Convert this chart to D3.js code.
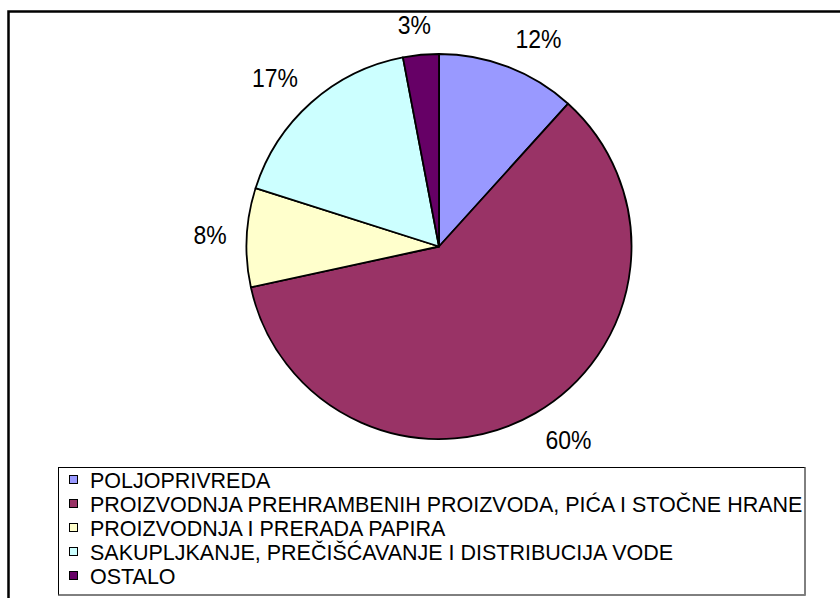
<!DOCTYPE html>
<html lang="sr">
<head>
    <meta charset="UTF-8">
    <title>Pie chart</title>
    <script src="https://d3js.org/d3.v7.min.js"></script>
    <style>
      body { margin: 0; background: #fff; }
      text { font-family: "Liberation Sans", Arial, sans-serif; fill: #000; }
    </style>
</head>
<body>
    <svg id="chart" width="840" height="598"></svg>

    <script>
        // data (share in %)
        var categories = [
          "POLJOPRIVREDA",
          "PROIZVODNJA PREHRAMBENIH PROIZVODA, PIĆA I STOČNE HRANE",
          "PROIZVODNJA I PRERADA PAPIRA",
          "SAKUPLJKANJE, PREČIŠĆAVANJE I DISTRIBUCIJA VODE",
          "OSTALO"
        ];
        var shares = [11.7, 59.9, 8.3, 17.1, 3.0];
        var colors = ["#9999FF", "#993366", "#FFFFCC", "#CCFFFF", "#660066"];

        var svg = d3.select("#chart"),
          width = +svg.attr("width"),
          height = +svg.attr("height");

        // outer chart frame (runs off the right and bottom of the picture)
        svg.append("rect")
          .attr("x", 8.5).attr("y", 11.5)
          .attr("width", width + 40).attr("height", height + 40)
          .attr("fill", "none")
          .attr("stroke", "#000")
          .attr("stroke-width", 2.5);

        var cx = 439, cy = 246.5, radius = 192.5;

        var color = d3.scaleOrdinal().domain(categories).range(colors);

        var rows = categories.map(function (c, i) { return {name: c, value: shares[i]}; });

        var pie = d3.pie().sort(null).value(function (d) { return d.value; });
        var arc = d3.arc().innerRadius(0).outerRadius(radius);
        var arcs = pie(rows);

        var g = svg.append("g").attr("transform", "translate(" + cx + "," + cy + ")");

        g.selectAll("path")
          .data(arcs)
          .enter()
          .append("path")
            .attr("d", arc)
            .attr("fill", function (d) { return color(d.data.name); })
            .attr("stroke", "#000")
            .attr("stroke-width", 1.8)
            .attr("stroke-linejoin", "round");

        // percent labels: anchored just outside the rim, pushed away from it
        var gap = 20;
        var clamp = function (v) { return Math.max(-1, Math.min(1, v)); };
        g.selectAll("text.pct")
          .data(arcs)
          .enter()
          .append("text")
            .attr("class", "pct")
            .style("font-size", "23px")
            .attr("text-anchor", "middle")
            .attr("dominant-baseline", "central")
            .text(function (d) { return Math.round(d.data.value) + "%"; })
            .each(function (d) {
              var a = (d.startAngle + d.endAngle) / 2;
              var w = this.getComputedTextLength(), h = 19;
              var ax = Math.sin(a) * (radius + gap), ay = -Math.cos(a) * (radius + gap);
              var x = ax + w / 2 * clamp(Math.sin(a) * 3);
              var y = ay - h / 2 * clamp(Math.cos(a) * 3);
              d3.select(this).attr("transform", "translate(" + x + "," + y + ") scale(1,1.12)");
            });

        // legend
        var lx = 58.5, ly = 467.5, lw = 746.5, lh = 127.5;
        var legend = svg.append("g");
        legend.append("rect")
          .attr("x", lx).attr("y", ly).attr("width", lw).attr("height", lh)
          .attr("fill", "#fff").attr("stroke", "#000").attr("stroke-width", 1);
        legend.append("path")
          .attr("d", "M" + (lx + lw) + "," + ly + "V" + (ly + lh) + "H" + lx)
          .attr("fill", "none").attr("stroke", "#808080").attr("stroke-width", 1.5);

        var rowY = d3.scalePoint().domain(categories).range([480, 576]);

        var item = legend.selectAll("g.item")
          .data(categories)
          .enter()
          .append("g")
            .attr("class", "item")
            .attr("transform", function (d) { return "translate(0," + rowY(d) + ")"; });

        item.append("rect")
          .attr("x", 69.5).attr("y", -4.5)
          .attr("width", 8).attr("height", 8)
          .attr("fill", function (d) { return color(d); })
          .attr("stroke", "#000").attr("stroke-width", 1);

        item.append("text")
          .attr("transform", "translate(90,8) scale(1,1.06)")
          .style("font-size", "21.5px")
          .text(function (d) { return d; });
    </script>
</body>
</html>
